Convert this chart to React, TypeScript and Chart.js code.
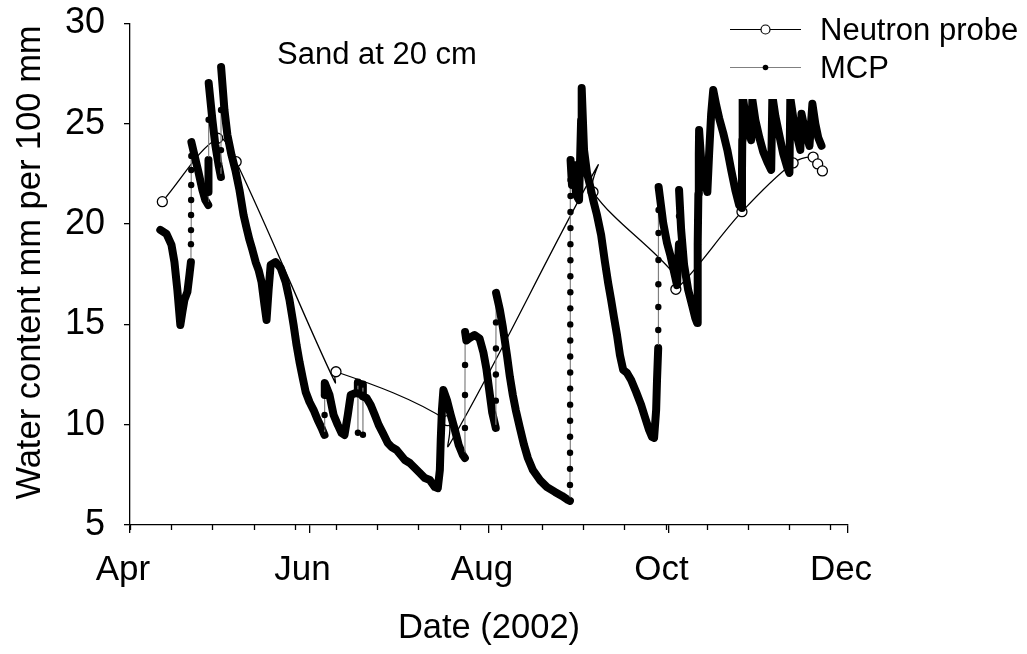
import React, { useEffect, useRef } from "react";
import { Chart, registerables } from "chart.js";

Chart.register(...registerables);

// Axis definitions (days since 1 April 2002)
const monthDays = [0, 61, 122, 183, 244];
const monthLabels = ["Apr", "Jun", "Aug", "Oct", "Dec"];
const minorTickDays = [0, 14, 28, 42, 56, 70, 84, 98, 112, 126, 140, 154, 168, 182, 196, 210, 224, 238];
const yTickValues = [5, 10, 15, 20, 25, 30];

// Neutron probe readings (spline path; markers only where a circle is drawn)
const neutronDay = [10.99, 29.82, 36.08, 69.7, 70.0, 107.9, 108.3, 158.9, 157.35, 184.4, 185.5, 207.96, 225.35, 232.15, 233.7, 235.3];
const neutronWater = [21.12, 24.28, 23.11, 12.1, 12.64, 10.2, 8.95, 22.9, 21.6, 17.6, 16.75, 20.62, 23.05, 23.34, 23.0, 22.65];
const neutronMarker = [1, 1, 1, 0, 1, 1, 0, 0, 1, 0, 1, 1, 1, 1, 1, 1];

// MCP sensor readings
const mcpDay = [
  10.3, 12.4, 14.1, 15.1, 16.1, 17.1, 17.8, 18.5, 19.5, 20.2, 20.7,
  20.72, 20.74, 20.76, 20.78, 20.8, 20.82, 20.84, 20.86,
  21.9, 23.25, 24.6, 25.6, 26.6,
  26.62, 26.64, 26.66, 26.68, 26.7, 26.72, 26.74,
  28.0, 29.0, 30.1, 30.9,
  30.92, 30.94, 30.96,
  32.1, 33.1, 34.5, 35.8, 37.2, 38.6, 39.6, 40.6, 41.6, 42.7, 43.7, 44.7, 45.7, 46.4, 47.1, 47.8,
  49.5, 51.2, 52.9, 54.2, 55.6, 56.6, 57.6, 58.7, 59.7, 61.0, 62.4, 63.8, 65.1, 66.1,
  66.13, 66.16, 66.19,
  67.8, 69.2, 70.6, 71.9, 72.9, 74.0, 75.0, 76.7, 77.4,
  77.43, 77.46, 77.49,
  79.1, 79.13, 79.16, 79.19,
  80.4, 81.8, 83.2, 84.5, 85.9, 87.6, 88.9, 90.6, 92.0, 93.4, 95.1, 96.8, 98.5, 100.2, 101.9, 103.6, 104.6,
  105.3, 105.6, 106.0, 106.5, 107.7, 109.0, 110.4, 111.7, 113.1, 113.8,
  113.82, 113.84, 113.86, 113.88,
  114.3, 115.4, 117.1, 118.8, 120.1, 121.1, 122.1, 123.1, 124.3,
  124.32, 124.34, 124.36, 124.38, 124.4,
  125.7, 126.7, 128.1, 129.1, 130.1, 131.1, 132.5, 133.9, 135.2, 136.9, 139.3, 141.7, 144.4, 146.8, 148.8, 149.5,
  149.52, 149.53, 149.54, 149.55, 149.56, 149.57, 149.58, 149.59, 149.6, 149.61, 149.62,
  149.63, 149.64, 149.65, 149.66, 149.67, 149.68, 149.69, 149.7, 149.71, 149.72,
  150.2, 150.9, 151.6, 152.6, 153.3, 153.5, 154.3, 155.3, 156.3, 157.4, 158.7, 160.1, 161.4, 162.5, 163.5,
  164.5, 165.5, 166.5, 167.6, 168.9, 170.3, 172.0, 173.7, 175.1, 176.4, 177.4, 178.1, 178.8, 179.1, 179.5,
  179.52, 179.54, 179.56, 179.58, 179.6, 179.62, 179.64,
  181.2, 182.5, 183.6, 184.9, 185.9, 186.55, 186.57, 186.59,
  187.3, 188.3, 189.7, 191.0, 192.1, 192.75, 192.85, 193.0, 193.15, 193.3, 193.4,
  194.1, 195.1, 196.2, 196.8, 197.5, 198.2, 199.2, 200.2, 201.6, 203.0, 204.3, 205.7, 207.0, 207.9,
  207.97, 208.07, 208.2, 209.1, 210.1, 211.1, 211.5, 212.5, 213.9, 215.2, 216.6, 217.9, 218.3,
  219.3, 220.7, 222.0, 223.4, 224.1, 224.4, 225.4, 226.8, 227.8, 228.2, 229.5, 230.9, 231.9, 232.9, 233.9, 235.0,
];
const mcpWater = [
  19.71, 19.51, 18.96, 18.11, 16.71, 14.97, 15.62, 16.22, 16.62, 17.46, 18.11,
  19.0, 19.7, 20.45, 21.2, 21.95, 22.7, 23.4, 24.09,
  23.44, 22.6, 21.7, 21.2, 20.95,
  21.6, 22.05, 22.45, 22.85, 23.2, 25.2, 27.03,
  25.19, 23.94, 22.95, 22.35,
  23.69, 25.69, 27.83,
  25.69, 24.44, 23.44, 22.7, 21.7, 20.45, 19.81, 19.21, 18.71, 18.11, 17.71, 17.11, 15.97, 15.22, 16.71, 17.96,
  18.11, 17.81, 17.11, 16.22, 14.97, 13.97, 13.13, 12.33, 11.63, 11.13, 10.73, 10.23, 9.84, 9.49,
  10.48, 11.48, 12.08,
  11.48, 10.48, 9.99, 9.59, 9.49, 10.48, 11.48, 11.58, 11.6,
  12.1, 9.6, 11.55,
  11.5, 12.0, 9.5, 11.4,
  11.33, 10.98, 10.48, 9.99, 9.59, 9.09, 8.89, 8.74, 8.49, 8.24, 8.09, 7.84, 7.59, 7.34, 7.24, 6.89, 6.84,
  7.74, 9.24, 10.73, 11.73, 11.23, 10.48, 9.74, 8.99, 8.49, 8.34,
  9.84, 11.48, 12.98, 14.62,
  14.2, 14.32, 14.47, 14.3, 13.6, 12.8, 11.7, 10.6, 9.84,
  11.2, 12.5, 13.8, 15.1, 16.57,
  15.72, 14.87, 13.47, 12.38, 11.48, 10.73, 9.84, 8.99, 8.34, 7.74, 7.24, 6.89, 6.65, 6.45, 6.25, 6.2,
  7.0, 7.8, 8.6, 9.4, 10.2, 11.0, 11.8, 12.6, 13.4, 14.2, 15.0,
  15.8, 16.6, 17.4, 18.2, 19.0, 19.8, 20.6, 21.4, 22.2, 23.2,
  21.95, 22.95, 21.45, 21.2, 25.19, 26.78, 23.69, 22.55, 21.95, 21.2, 20.45, 19.46, 18.11, 17.06, 16.22,
  15.32, 14.47, 13.47, 12.73, 12.58, 12.23, 11.63, 10.98, 10.33, 9.74, 9.39, 9.34, 10.73, 12.23, 13.82,
  14.72, 15.87, 17.0, 18.21, 19.56, 20.7, 21.85,
  20.05, 19.06, 18.46, 17.61, 16.96, 19.0, 20.4, 21.7,
  19.71, 17.96, 16.71, 15.97, 15.32, 15.07, 16.5, 19.0, 21.5, 23.5, 24.69,
  23.2, 22.2, 21.6, 23.5, 25.5, 26.68, 25.94, 25.29, 24.54, 23.69, 22.7, 21.7, 20.95, 20.8,
  22.5, 24.2, 26.44, 25.44, 24.69, 24.19, 26.2, 25.2, 24.3, 23.6, 23.1, 22.7, 26.4,
  25.4, 24.4, 23.5, 22.8, 22.55, 26.3, 25.3, 24.3, 23.7, 25.5, 24.6, 23.9, 26.0, 25.0, 24.3, 23.9,
];

const FONT = "'Liberation Sans', Arial, Helvetica, sans-serif";

function isJump(ctx: any): boolean {
  const a = ctx.p0.parsed;
  const b = ctx.p1.parsed;
  const dx = Math.max(Math.abs(b.x - a.x), 1e-6);
  return Math.abs(b.y - a.y) / dx > 30;
}

export default function App() {
  const ref = useRef<HTMLCanvasElement>(null);

  useEffect(() => {
    const canvas = ref.current;
    if (!canvas) return;

    const decor = {
      id: "decor",
      afterDraw(chart: any) {
        const ctx = chart.ctx;
        const xs = chart.scales.x;
        const area = chart.chartArea;
        ctx.save();
        // minor ticks on x axis
        ctx.strokeStyle = "#000";
        ctx.lineWidth = 1.3;
        minorTickDays.forEach((d) => {
          const px = Math.round(xs.getPixelForValue(d)) + 0.5;
          ctx.beginPath();
          ctx.moveTo(px, area.bottom);
          ctx.lineTo(px, area.bottom + 5);
          ctx.stroke();
        });

        // legend box (opaque)
        ctx.fillStyle = "#fff";
        ctx.fillRect(725, 0, 302, 99);
        ctx.strokeStyle = "#000";
        ctx.lineWidth = 1.2;
        ctx.beginPath();
        ctx.moveTo(730, 29.5);
        ctx.lineTo(801, 29.5);
        ctx.stroke();
        ctx.beginPath();
        ctx.arc(765.5, 29.5, 4.5, 0, Math.PI * 2);
        ctx.fillStyle = "#fff";
        ctx.fill();
        ctx.stroke();
        ctx.strokeStyle = "#808080";
        ctx.beginPath();
        ctx.moveTo(730, 67.5);
        ctx.lineTo(801, 67.5);
        ctx.stroke();
        ctx.fillStyle = "#000";
        ctx.beginPath();
        ctx.arc(765.5, 67.5, 2.8, 0, Math.PI * 2);
        ctx.fill();

        ctx.fillStyle = "#000";
        ctx.textAlign = "left";
        ctx.textBaseline = "alphabetic";
        ctx.font = `31px ${FONT}`;
        ctx.fillText("Neutron probe", 820, 40);
        ctx.fillText("MCP", 820, 78);

        // annotation
        ctx.font = `31px ${FONT}`;
        ctx.fillText("Sand at 20 cm", 277, 64);

        // axis titles
        ctx.font = `34.5px ${FONT}`;
        ctx.textAlign = "center";
        ctx.fillText("Date (2002)", (area.left + area.right) / 2, 638);
        ctx.save();
        ctx.translate(40, 262.5);
        ctx.rotate(-Math.PI / 2);
        ctx.fillText("Water content mm per 100 mm", 0, 0);
        ctx.restore();
        ctx.restore();
      },
    };

    const chart = new Chart(canvas, {
      type: "line",
      data: {
        datasets: [
          {
            label: "MCP",
            data: mcpDay.map((d, i) => ({ x: d, y: mcpWater[i] })),
            borderColor: "#000",
            borderWidth: 8,
            borderCapStyle: "round",
            borderJoinStyle: "round",
            tension: 0,
            pointRadius: 3.2,
            pointBackgroundColor: "#000",
            pointBorderWidth: 0,
            segment: {
              borderColor: (c: any) => (isJump(c) ? "#808080" : "#000"),
              borderWidth: (c: any) => (isJump(c) ? 1.2 : 8),
            },
            order: 0,
          } as any,
          {
            label: "Neutron probe",
            data: neutronDay.map((d, i) => ({ x: d, y: neutronWater[i] })),
            borderColor: "#000",
            borderWidth: 1.3,
            tension: 0.35,
            pointRadius: neutronMarker.map((m) => (m ? 5 : 0)),
            pointBackgroundColor: "#fff",
            pointBorderColor: "#000",
            pointBorderWidth: 1.3,
            order: 1,
          },
        ],
      },
      options: {
        responsive: false,
        animation: false,
        events: [],
        layout: { padding: { top: 23.5, right: 179, left: 0, bottom: 0 } },
        plugins: { legend: { display: false }, tooltip: { enabled: false }, title: { display: false } },
        scales: {
          x: {
            type: "linear",
            min: 0,
            max: 244,
            afterBuildTicks: (s: any) => {
              s.ticks = monthDays.map((v) => ({ value: v }));
            },
            afterFit: (s: any) => {
              s.height = 129;
              s.paddingLeft = 0;
              s.paddingRight = 0;
            },
            ticks: {
              autoSkip: false,
              maxRotation: 0,
              padding: 16,
              labelOffset: -7,
              color: "#000",
              font: { family: FONT, size: 35 },
              callback: (v: any) => {
                const i = monthDays.indexOf(Number(v));
                return i >= 0 ? monthLabels[i] : "";
              },
            },
            grid: { drawOnChartArea: false, drawTicks: true, tickLength: 8, color: "#000", lineWidth: 1.3 },
            border: { display: true, color: "#000", width: 1.3 },
          },
          y: {
            type: "linear",
            min: 5,
            max: 30,
            afterBuildTicks: (s: any) => {
              s.ticks = yTickValues.map((v) => ({ value: v }));
            },
            afterFit: (s: any) => {
              s.width = 130;
              s.paddingTop = 0;
              s.paddingBottom = 0;
            },
            ticks: {
              padding: 19,
              color: "#000",
              font: { family: FONT, size: 36 },
            },
            grid: { drawOnChartArea: false, drawTicks: true, tickLength: 6, color: "#000", lineWidth: 1.3 },
            border: { display: true, color: "#000", width: 1.3 },
          },
        },
      },
      plugins: [decor],
    } as any);

    return () => chart.destroy();
  }, []);

  return (
    <div style={{ position: "fixed", left: 0, top: 0, width: 1027, height: 654, background: "#fff" }}>
      <canvas ref={ref} width={1027} height={654} style={{ display: "block" }} />
    </div>
  );
}
